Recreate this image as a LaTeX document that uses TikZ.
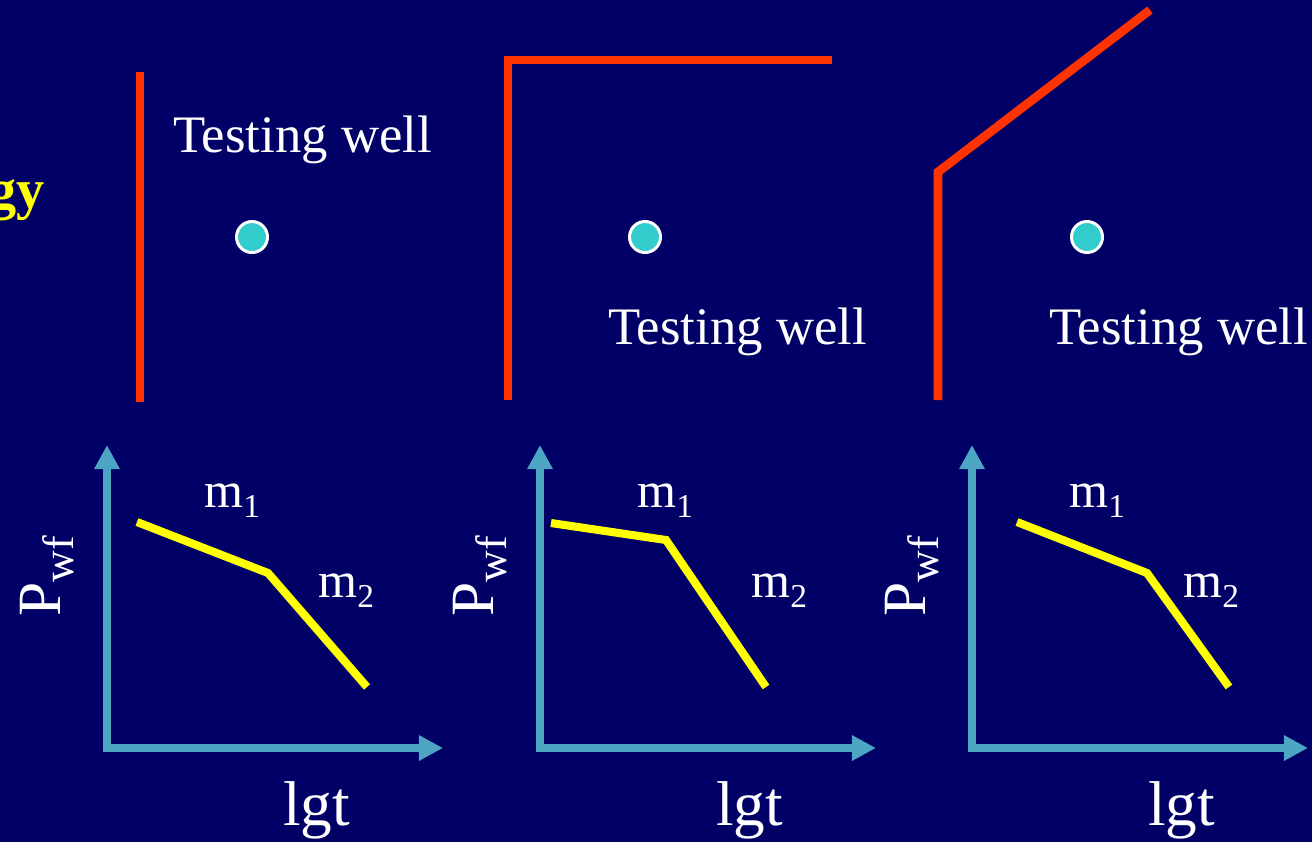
\documentclass[tikz,border=0pt]{standalone}
\usepackage{fontspec}
\setmainfont{Liberation Serif}
\usetikzlibrary{arrows.meta}
\definecolor{slideBlue}{RGB}{0, 0, 102}
\definecolor{wallRed}{RGB}{255, 51, 0}
\definecolor{axisTeal}{RGB}{75, 165, 195}
\definecolor{wellCyan}{RGB}{51, 204, 204}
\definecolor{curveYellow}{RGB}{255, 255, 0}
\newcommand{\msub}[1]{\raisebox{-5.7pt}{\fontsize{19}{19}\selectfont #1}}
\newcommand{\pwf}{P\raisebox{-7.4pt}{\fontsize{25}{25}\selectfont wf}}
\tikzset{
  wall/.style={wallRed, line width=5pt, line join=miter},
  axis/.style={axisTeal, line width=4.6pt,
    {Triangle[length=13.7pt, width=13.7pt]}-{Triangle[length=13.7pt, width=13.7pt]}},
  curve/.style={curveYellow, line width=4.6pt, line join=miter},
  well/.style={draw=white, fill=wellCyan, line width=1.7pt},
  lbl/.style={text=white, inner sep=0pt, anchor=base west}
}
\begin{document}
\begin{tikzpicture}[x=0.2mm, y=-0.2mm]
        % background
        \fill[slideBlue] (0,0) rectangle (1312,842);
        \useasboundingbox (0,0) rectangle (1312,842);

        % cut-off title
        \node[curveYellow, inner sep=0pt, anchor=base east, font=\fontsize{32}{32}\selectfont\bfseries] (title) at (45,208) {gy};

        % boundaries
        \coordinate (W1a) at (140,72);
        \coordinate (W1b) at (140,402);
        \coordinate (W2a) at (508,400);
        \coordinate (W2b) at (508,60);
        \coordinate (W2c) at (832,60);
        \coordinate (W3a) at (938,400);
        \coordinate (W3b) at (938,172);
        \coordinate (W3c) at (1150,10);
        \draw[wall] (W1a) -- (W1b);
        \draw[wall] (W2a) -- (W2b) -- (W2c);
        \draw[wall] (W3a) -- (W3b) -- (W3c);

        % testing wells
        \foreach \x/\n in {252/1, 645/2, 1087/3}
          \draw[well] (\x,237) coordinate (well\n) circle (15.5);
        \node[lbl, font=\fontsize{30}{30}\selectfont] (tw1) at (173,152) {Testing well};
        \node[lbl, font=\fontsize{30}{30}\selectfont] (tw2) at (608,344) {Testing well};
        \node[lbl, font=\fontsize{30}{30}\selectfont] (tw3) at (1049,344) {Testing well};

        % semilog plots
        \foreach \dx/\n in {0/1, 433/2, 865/3} {
          \coordinate (O\n) at (107+\dx,748);
          \coordinate (Y\n) at (107+\dx,445);
          \coordinate (X\n) at (443+\dx,748);
          \draw[axis] (Y\n) |- (X\n);
          \node[lbl, font=\fontsize{36}{36}\selectfont] (lgt\n) at (283+\dx,825) {lgt};
          \node[lbl, rotate=90, font=\fontsize{35}{35}\selectfont] (p\n) at (60+\dx,617) {\pwf};
          \node[lbl, font=\fontsize{28.5}{28.5}\selectfont] (ma\n) at (204+\dx,507) {m\msub{1}};
          \node[lbl, font=\fontsize{28.5}{28.5}\selectfont] (mb\n) at (318+\dx,597) {m\msub{2}};
        }
        \draw[curve] (137,522) -- (268,573) -- (367,687);
        \draw[curve] (551,523) -- (666,540) -- (766,687);
        \draw[curve] (1017,522) -- (1147,573) -- (1229,687);
      \end{tikzpicture}
\end{document}
